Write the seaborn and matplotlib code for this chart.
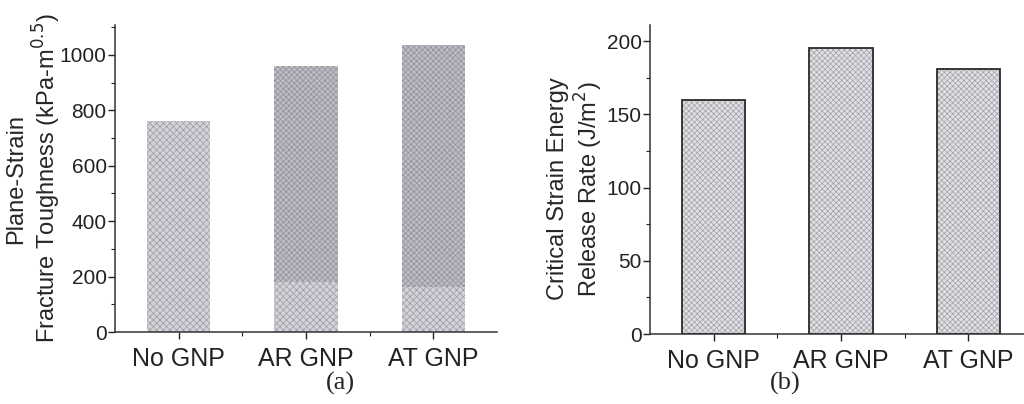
import matplotlib
matplotlib.use("Agg")
import matplotlib.pyplot as plt
import seaborn as sns
import pandas as pd
from matplotlib.ticker import MultipleLocator

sns.set_style("ticks")
plt.rcParams['font.family'] = ['Liberation Sans', 'DejaVu Sans']
plt.rcParams['hatch.linewidth'] = 0.5

categories = ["No GNP", "AR GNP", "AT GNP"]
toughness_total = [762, 960, 1036]
toughness_base = [762, 180, 162]
energy_rate = [160, 195, 181]

fig = plt.figure(figsize=(10.24, 4.04), dpi=100)
ax1 = fig.add_axes([115/1024, 72/404, 382/1024, 307/404])
ax2 = fig.add_axes([650/1024, 70/404, 382/1024, 309/404])

df_a = pd.DataFrame({"cat": categories, "total": toughness_total, "base": toughness_base})
df_b = pd.DataFrame({"cat": categories, "val": energy_rate})

sns.barplot(data=df_a, x="cat", y="total", ax=ax1, width=0.5, color="#bcbcc4",
            edgecolor="#90909a", linewidth=0, hatch="xxxxxx", saturation=1)
sns.barplot(data=df_a, x="cat", y="base", ax=ax1, width=0.5, color="#d2d2d8",
            edgecolor="#9c9ca6", linewidth=0, hatch="xxxxx", saturation=1)

sns.barplot(data=df_b, x="cat", y="val", ax=ax2, width=0.5, color="#e0e0e4",
            edgecolor="#a0a0a8", linewidth=0, hatch="xxxxxx", saturation=1)
# dark outlines for panel (b)
for p in ax2.patches:
    ax2.add_patch(plt.Rectangle(p.get_xy(), p.get_width(), p.get_height(),
                                fill=False, edgecolor="#2a2a2a", linewidth=1.3))

for ax, ymax, major, minor in [(ax1, 1108, 200, 100), (ax2, 211, 50, 25)]:
    sns.despine(ax=ax)
    ax.set_xlim(-0.5, 2.5)
    ax.set_ylim(0, ymax)
    ax.yaxis.set_major_locator(MultipleLocator(major))
    ax.yaxis.set_minor_locator(MultipleLocator(minor))
    ax.set_xticks([0, 1, 2])
    ax.set_xticks([0.5, 1.5], minor=True)
    ax.set_xticklabels(categories, fontsize=18)
    ax.tick_params(axis='y', labelsize=15, length=5, width=1, colors="#222222", pad=1)
    ax.tick_params(axis='x', length=5, width=1, colors="#222222", pad=6)
    ax.tick_params(which='minor', length=3, width=0.8, colors="#222222")
    for s in ["left", "bottom"]:
        ax.spines[s].set_color("#333333")
        ax.spines[s].set_linewidth(1.1)
    ax.set_xlabel("")

ax1.set_ylabel("Plane-Strain\nFracture Toughness (kPa-m$^{0.5}$)", fontsize=17,
               linespacing=1.15)
ax1.yaxis.set_label_coords(-0.137, 0.5)
ax2.set_ylabel("Critical Strain Energy\nRelease Rate (J/m$^2$)", fontsize=17,
               linespacing=1.15)
ax2.yaxis.set_label_coords(-0.117, 0.47)

fig.text(340/1024, 1 - 383/404, "(a)", fontsize=19, family="Liberation Serif",
         ha="center", va="center")
fig.text(785/1024, 1 - 383/404, "(b)", fontsize=19, family="Liberation Serif",
         ha="center", va="center")

fig.savefig("out.png", dpi=100)
